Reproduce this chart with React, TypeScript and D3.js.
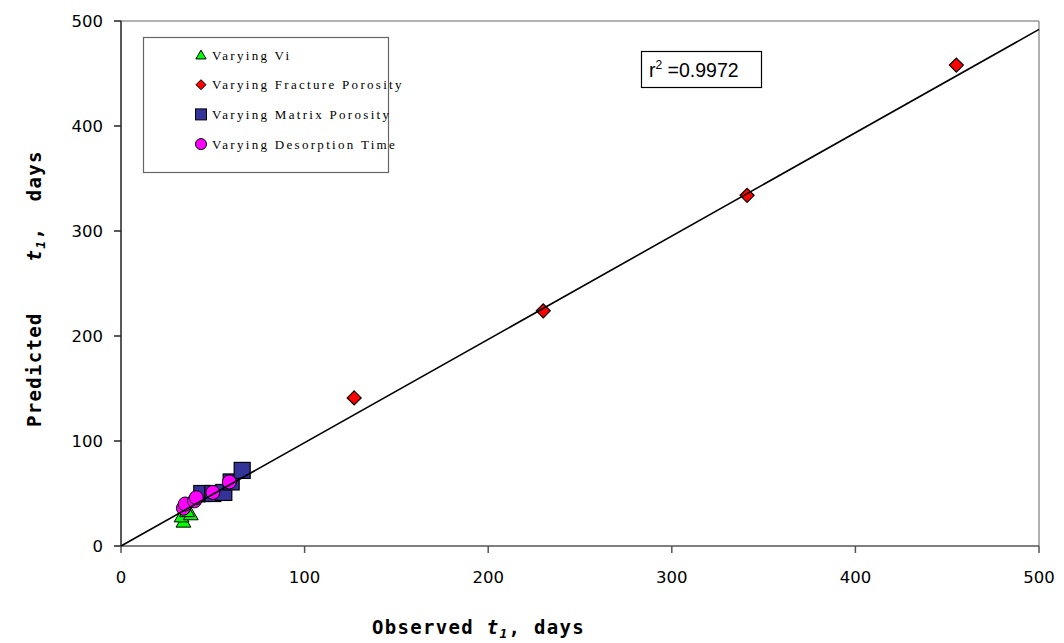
import { useMemo } from "react";
import * as d3 from "d3";

const WIDTH = 1064;
const HEIGHT = 643;
const MARGIN = { top: 21, right: 25, bottom: 97, left: 121 };

// observed vs predicted t1, days
const viObserved = [34, 33, 38, 36, 42];
const viPredicted = [23, 28, 30, 33, 47];
const fractureObserved = [127, 230, 341, 455];
const fracturePredicted = [141, 224, 334, 458];
const matrixObserved = [44, 50, 56, 60, 66];
const matrixPredicted = [50, 50, 51, 61, 72];
const desorptionObserved = [34, 35, 40, 41, 50, 59];
const desorptionPredicted = [36, 40, 43, 46, 51, 61];
const fitLine = [[0, 0], [500, 492]];
const ticks = [0, 100, 200, 300, 400, 500];
const legendLabels = [
  "Varying Vi",
  "Varying Fracture Porosity",
  "Varying Matrix Porosity",
  "Varying Desorption Time",
];

const zip = (a: number[], b: number[]) => a.map((v, i) => [v, b[i]]);

export default function App() {
  const w = WIDTH - MARGIN.left - MARGIN.right;
  const h = HEIGHT - MARGIN.top - MARGIN.bottom;

  const x = useMemo(() => d3.scaleLinear().domain([0, 500]).range([0, w]), [w]);
  const y = useMemo(() => d3.scaleLinear().domain([0, 500]).range([h, 0]), [h]);

  const line = d3.line<number[]>().x(d => x(d[0])).y(d => y(d[1]));

  const triangle = d3.symbol(d3.symbolTriangle, 95)()!;
  const diamond = "M0,-7L7,0L0,7L-7,0Z";
  const tickFont = "DejaVu Sans, Verdana, sans-serif";
  const titleFont = "DejaVu Sans Mono, monospace";

  return (
    <svg width={WIDTH} height={HEIGHT} style={{ position: "absolute", left: 0, top: 0 }}>
      <rect width={WIDTH} height={HEIGHT} fill="white" />
      <g transform={`translate(${MARGIN.left},${MARGIN.top})`}>
        {/* frame */}
        <line x1={0} x2={w} y1={0} y2={0} stroke="#999" strokeWidth={1.5} />
        <line x1={w} x2={w} y1={0} y2={h} stroke="#999" strokeWidth={1.5} />
        <line x1={0} x2={w} y1={h} y2={h} stroke="#555" strokeWidth={1.5} />
        <line x1={0} x2={0} y1={0} y2={h} stroke="#222" strokeWidth={1.5} />

        {/* y axis */}
        {ticks.map(t => (
          <g key={"y" + t} transform={`translate(0,${y(t)})`}>
            <line x1={-7} x2={0} stroke="#222" strokeWidth={1.5} />
            <text x={-18} dy="0.35em" textAnchor="end" fontFamily={tickFont} fontSize={16.5}>
              {t}
            </text>
          </g>
        ))}
        {/* x axis */}
        {ticks.map(t => (
          <g key={"x" + t} transform={`translate(${x(t)},${h})`}>
            <line y1={0} y2={7} stroke="#555" strokeWidth={1.5} />
            <text y={37} textAnchor="middle" fontFamily={tickFont} fontSize={16.5}>
              {t}
            </text>
          </g>
        ))}

        {/* markers */}
        {zip(viObserved, viPredicted).map((d, i) => (
          <path key={"t" + i} d={triangle} transform={`translate(${x(d[0])},${y(d[1]) + 1})`}
            fill="#00ff00" stroke="black" strokeWidth={1} />
        ))}
        {zip(fractureObserved, fracturePredicted).map((d, i) => (
          <path key={"d" + i} d={diamond} transform={`translate(${x(d[0])},${y(d[1])})`}
            fill="#ff0000" stroke="black" strokeWidth={1.2} />
        ))}
        {zip(matrixObserved, matrixPredicted).map((d, i) => (
          <rect key={"s" + i} x={x(d[0]) - 8} y={y(d[1]) - 8} width={16} height={16}
            fill="#333399" stroke="black" strokeWidth={1.2} />
        ))}
        {zip(desorptionObserved, desorptionPredicted).map((d, i) => (
          <circle key={"c" + i} cx={x(d[0])} cy={y(d[1])} r={7}
            fill="#ff00ff" stroke="black" strokeWidth={1} />
        ))}

        {/* fit line */}
        <path d={line(fitLine)!} fill="none" stroke="black" strokeWidth={1.6} />
      </g>

      {/* legend */}
      <g>
        <rect x={143.5} y={37.5} width={245} height={135} fill="white" stroke="#666" strokeWidth={1.2} />
        {legendLabels.map((label, i) => {
          const cy = 55 + i * 29.7;
          const mx = 201;
          let marker;
          if (i === 0) marker = <path d={d3.symbol(d3.symbolTriangle, 45)()!} transform={`translate(${mx},${cy + 1})`} fill="#00ff00" stroke="black" />;
          else if (i === 1) marker = <path d="M0,-5L5,0L0,5L-5,0Z" transform={`translate(${mx},${cy})`} fill="#ff0000" stroke="black" />;
          else if (i === 2) marker = <rect x={mx - 5.5} y={cy - 5.5} width={11} height={11} fill="#333399" stroke="black" />;
          else marker = <circle cx={mx} cy={cy} r={5.5} fill="#ff00ff" stroke="black" />;
          return (
            <g key={label}>
              {marker}
              <text x={212} y={cy} dy="0.35em" fontFamily="Liberation Serif, serif" fontSize={13} letterSpacing={2.3}>
                {label}
              </text>
            </g>
          );
        })}
      </g>

      {/* r squared */}
      <g>
        <rect x={641.5} y={51.5} width={120} height={36} fill="white" stroke="black" strokeWidth={1.2} />
        <text x={649} y={77} fontFamily="Liberation Sans, Arial, sans-serif" fontSize={19.5}>
          r<tspan dy={-8} fontSize={12}>2</tspan><tspan dy={8}> =0.9972</tspan>
        </text>
      </g>

      {/* axis titles */}
      <text x={372} y={634} fontFamily={titleFont} fontWeight="bold" fontSize={19} letterSpacing={1.3}>
        Observed <tspan fontStyle="italic">t</tspan><tspan fontStyle="italic" fontSize={13} dy={4}>1</tspan><tspan dy={-4}>, days</tspan>
      </text>
      <text transform="translate(41,427) rotate(-90)" fontFamily={titleFont} fontWeight="bold" fontSize={19} letterSpacing={1.3}>
        Predicted{"\u00a0\u00a0\u00a0\u00a0"}<tspan fontStyle="italic">t</tspan><tspan fontStyle="italic" fontSize={13} dy={4}>1</tspan><tspan dy={-4}>,{"\u00a0\u00a0"}days</tspan>
      </text>
    </svg>
  );
}
